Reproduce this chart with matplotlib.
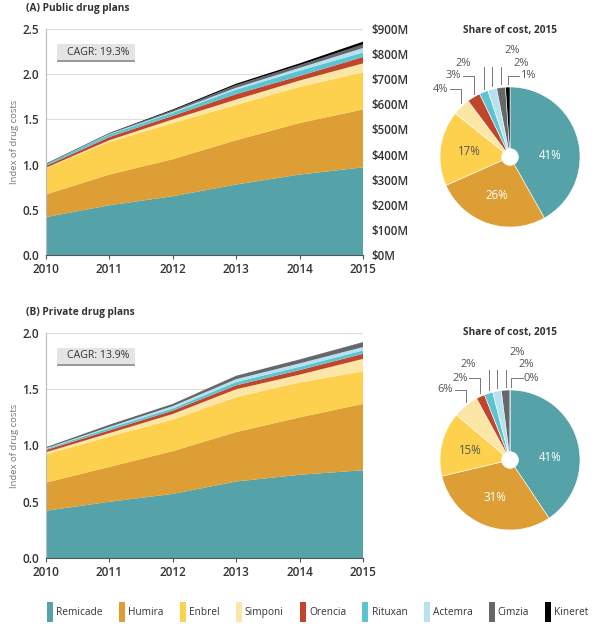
import matplotlib
matplotlib.use('Agg')
import matplotlib.pyplot as plt
from matplotlib.patches import Patch, Rectangle
import numpy as np

plt.rcParams['font.family'] = ['Open Sans', 'DejaVu Sans']

# ─── data ───────────────────────────────────────────────────────────────────
years = [2010, 2011, 2012, 2013, 2014, 2015]
drugs = ['Remicade', 'Humira', 'Enbrel', 'Simponi', 'Orencia',
         'Rituxan', 'Actemra', 'Cimzia', 'Kineret']
colors = ['#55a3a8', '#dc9e35', '#fdd14d', '#fce6a5', '#c0452a',
          '#5ec3d0', '#b5e2ee', '#66676b', '#000000']

# index of drug costs by drug (stacked), public plans
public = {
    'Remicade': [0.42, 0.55, 0.65, 0.78, 0.89, 0.97],
    'Humira':   [0.25, 0.34, 0.41, 0.49, 0.57, 0.64],
    'Enbrel':   [0.29, 0.36, 0.40, 0.39, 0.40, 0.41],
    'Simponi':  [0.005, 0.02, 0.04, 0.06, 0.07, 0.10],
    'Orencia':  [0.02, 0.035, 0.04, 0.06, 0.05, 0.07],
    'Rituxan':  [0.02, 0.03, 0.035, 0.05, 0.06, 0.05],
    'Actemra':  [0.0, 0.005, 0.01, 0.02, 0.03, 0.05],
    'Cimzia':   [0.0, 0.005, 0.015, 0.03, 0.03, 0.04],
    'Kineret':  [0.005, 0.005, 0.01, 0.015, 0.02, 0.03],
}
# private plans
private = {
    'Remicade': [0.42, 0.50, 0.57, 0.68, 0.74, 0.78],
    'Humira':   [0.25, 0.31, 0.38, 0.44, 0.51, 0.59],
    'Enbrel':   [0.25, 0.27, 0.28, 0.31, 0.31, 0.29],
    'Simponi':  [0.02, 0.03, 0.05, 0.07, 0.07, 0.11],
    'Orencia':  [0.02, 0.025, 0.03, 0.035, 0.04, 0.045],
    'Rituxan':  [0.01, 0.02, 0.02, 0.03, 0.03, 0.03],
    'Actemra':  [0.005, 0.01, 0.02, 0.025, 0.03, 0.03],
    'Cimzia':   [0.01, 0.02, 0.02, 0.03, 0.035, 0.04],
    'Kineret':  [0.0, 0.0, 0.0, 0.0, 0.0, 0.003],
}

# share of cost 2015 (%)
public_share = [41, 26, 17, 4, 3, 2, 2, 2, 1]
private_share = [41, 31, 15, 6, 2, 2, 2, 2, 0]

public_cagr = 'CAGR: 19.3%'
private_cagr = 'CAGR: 13.9%'

dollar_ticks = [0, 100, 200, 300, 400, 500, 600, 700, 800, 900]
dollars_per_index = 360  # $900M == index 2.5

TXT = '#333333'
GRAY = '#777777'

fig = plt.figure(figsize=(6, 6.3), dpi=100)


def px(x, y, w, h):
    return [x / 600, 1 - (y + h) / 630, w / 600, h / 630]


def area_panel(rect, data, ymax, cagr, title, title_y, right_axis):
    ax = fig.add_axes(rect)
    ax.stackplot(years, [data[d] for d in drugs], colors=colors, linewidth=0)
    ax.set_xlim(2010, 2015)
    ax.set_ylim(0, ymax)
    yt = np.arange(0, ymax + 0.01, 0.5)
    ax.set_yticks(yt)
    ax.set_yticklabels([f'{v:.1f}' for v in yt])
    ax.set_xticks(years)
    ax.grid(axis='y', color='#dddddd', linewidth=0.8)
    ax.set_axisbelow(True)
    for s in ['top', 'right']:
        ax.spines[s].set_visible(False)
    ax.spines['left'].set_color('#bbbbbb')
    ax.spines['bottom'].set_color('#555555')
    ax.tick_params(axis='y', length=0, pad=5, labelsize=8.5, labelcolor=TXT)
    ax.tick_params(axis='x', length=3, color='#555555', pad=3,
                   labelsize=8.5, labelcolor=TXT)
    for lab in ax.get_xticklabels() + ax.get_yticklabels():
        lab.set_fontweight('semibold')
    ax.set_ylabel('Index of drug costs', color=GRAY, fontsize=6.8)
    ax.yaxis.set_label_coords(-27 / 317, 0.5)
    ax.add_patch(Rectangle((0.035, 0.86), 0.245, 0.075, transform=ax.transAxes,
                           facecolor='#e4e4e4', edgecolor='none', zorder=5))
    ax.add_patch(Rectangle((0.035, 0.855), 0.245, 0.006, transform=ax.transAxes,
                           facecolor='#9a9a9a', edgecolor='none', zorder=5))
    ax.text(0.065, 0.898, cagr, transform=ax.transAxes, fontsize=7.6,
            color=TXT, va='center', zorder=6)
    fig.text(26 / 600, 1 - title_y / 630, title, fontsize=7.3,
             fontweight='bold', color=TXT, va='center')
    if right_axis:
        ax2 = ax.twinx()
        ax2.set_ylim(0, ymax * dollars_per_index)
        ax2.set_yticks(dollar_ticks)
        ax2.set_yticklabels([f'${v}M' for v in dollar_ticks])
        ax2.tick_params(axis='y', length=0, pad=6, labelsize=8.3, labelcolor=TXT)
        for lab in ax2.get_yticklabels():
            lab.set_fontweight('semibold')
        for s in ax2.spines.values():
            s.set_visible(False)
    return ax


def pie_panel(cx, cy, shares, label_pos, title_y):
    ax = fig.add_axes(px(cx - 90, cy - 90, 180, 180))
    wedges, _ = ax.pie(shares, colors=colors, startangle=90, counterclock=False,
                       radius=1, wedgeprops=dict(width=0.88, edgecolor='white',
                                                 linewidth=0.4))
    ax.set_xlim(-90 / 70, 90 / 70)
    ax.set_ylim(-90 / 70, 90 / 70)
    ax.set_aspect('equal')
    ax.axis('off')
    # big slices: label inside
    shift = [-13, 0, 0]
    for i, w in enumerate(wedges[:3]):
        ang = np.deg2rad((w.theta1 + w.theta2) / 2 + shift[i])
        r = 0.58
        ax.text(r * np.cos(ang), r * np.sin(ang), f'{shares[i]}%',
                ha='center', va='center', fontsize=8.3,
                color='white' if i < 2 else '#555555')
    # small slices: elbow leader lines
    for i, (ly, side) in zip(range(3, 9), label_pos):
        w = wedges[i]
        ang = np.deg2rad((w.theta1 + w.theta2) / 2)
        x0, y0 = 1.0 * np.cos(ang), 1.0 * np.sin(ang)
        x0 = x0 if abs(x0) > 0.02 else 0.02
        y_start = y0 + 0.05
        xe = x0 + side * 0.16
        ax.plot([x0, x0, xe], [y_start, ly, ly], color='#777777', lw=0.7)
        ax.text(xe + side * 0.02, ly, f'{shares[i]}%', fontsize=8,
                color='#555555', va='center',
                ha='left' if side > 0 else 'right')
    fig.text(cx / 600, 1 - title_y / 630, 'Share of cost, 2015', fontsize=7.3,
             fontweight='bold', color=TXT, ha='center', va='center')


area_panel(px(46, 29, 317, 226), public, 2.5, public_cagr,
           '(A) Public drug plans', 9, True)
area_panel(px(46, 333, 317, 225), private, 2.0, private_cagr,
           '(B) Private drug plans', 312, False)

pie_panel(510, 157, public_share,
          [(0.97, -1), (1.16, -1), (1.34, -1), (1.52, 1), (1.34, 1), (1.16, 1)],
          30)
pie_panel(510, 460, private_share,
          [(1.0, -1), (1.17, -1), (1.36, -1), (1.53, 1), (1.36, 1), (1.17, 1)],
          333)

handles = [Patch(facecolor=c, edgecolor='none') for c in colors]
fig.legend(handles, drugs, loc='center', bbox_to_anchor=(0.53, 1 - 612 / 630),
           ncol=9, frameon=False, fontsize=7.3, handlelength=0.6,
           handleheight=2.6, handletextpad=0.3, columnspacing=1.6,
           labelcolor=TXT)

fig.savefig('out.png', dpi=100)
